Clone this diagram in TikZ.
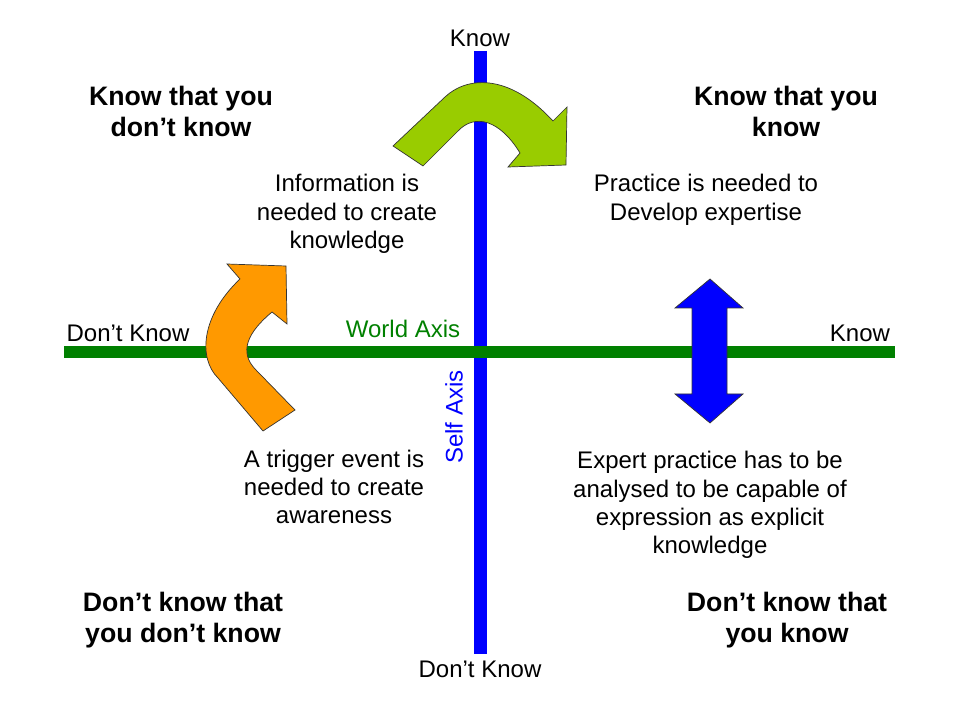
\documentclass[tikz,border=0pt]{standalone}
\usepackage{fontspec}
\setmainfont{Liberation Sans}
\usepackage{tikz}

\definecolor{axisgreen}{RGB}{0,128,0}
\definecolor{axisblue}{RGB}{0,0,255}
\definecolor{limegreen}{RGB}{153,204,0}
\definecolor{arroworange}{RGB}{255,153,0}

\tikzset{
	txt/.style={align=center,inner sep=0pt,font=\fontsize{17.07}{20.2}\selectfont},
	corner/.style={align=center,inner sep=0pt,font=\bfseries\fontsize{18.97}{22.05}\selectfont},
	bigarrow/.style={draw=black!80,line width=0.5pt,line join=miter}
}

\begin{document}
\begin{tikzpicture}[x=0.025cm,y=-0.025cm]
		\useasboundingbox (0,0) rectangle (960,720);
		%axes
		\coordinate (SelfTop) at (480,51);
		\coordinate (SelfBot) at (480,654);
		\coordinate (WorldL) at (64,352);
		\coordinate (WorldR) at (895,352);
		\draw[axisblue,line width=13*0.025cm] (SelfTop) -- (SelfBot);
		\draw[axisgreen,line width=12*0.025cm] (WorldL) -- (WorldR);
		%axis labels
		\node[txt] (KnowTop) at (480,38) {Know};
		\node[txt] (DontKnowBot) at (480,669) {Don’t Know};
		\node[txt] (DontKnowLeft) at (128,333) {Don’t Know};
		\node[txt] (KnowRight) at (860,333) {Know};
		\node[txt,text=axisgreen] (WorldAxis) at (403,329) {World Axis};
		\node[txt,text=axisblue,rotate=90] (SelfAxis) at (454,417) {Self Axis};
		%arrows
		\draw[bigarrow,fill=arroworange] (227,264) -- (286,266) -- (287,324) -- (272,312)
			.. controls (248,332) and (238,352) .. (256,370) -- (295,410) -- (263,431) -- (218,378)
			.. controls (198,358) and (201,316) .. (240,279) -- cycle;
		\draw[bigarrow,fill=limegreen] (393,146) -- (445,97)
			.. controls (466,77) and (508,72) .. (553,121) -- (567,107) -- (566,165) -- (508,167) -- (520,153)
			.. controls (500,120) and (475,113) .. (458,131) -- (423,166) -- cycle;
		\draw[bigarrow,fill=axisblue] (710,279) -- (743,308) -- (727,308) -- (727,394) -- (743,394)
			-- (710,423) -- (675,394) -- (692,394) -- (692,308) -- (675,308) -- cycle;
		%quadrant titles
		\node[corner] (KnowDont) at (181,111) {Know that you\\don’t know};
		\node[corner] (KnowKnow) at (786,111) {Know that you\\know};
		\node[corner] (DontDont) at (183,620) {Don’t know that\\you don’t know};
		\node[corner] (DontKnow) at (787,620) {Don’t know that\\you know};
		%transitions
		\node[txt] (Information) at (347,214) {Information is\\needed to create\\knowledge};
		\node[txt] (Practice) at (706,200) {Practice is needed to\\Develop expertise};
		\node[txt] (Trigger) at (334,487) {A trigger event is\\needed to create\\awareness};
		\node[txt] (Expert) at (710,505) {Expert practice has to be\\analysed to be capable of\\expression as explicit\\knowledge};
	\end{tikzpicture}
\end{document}
